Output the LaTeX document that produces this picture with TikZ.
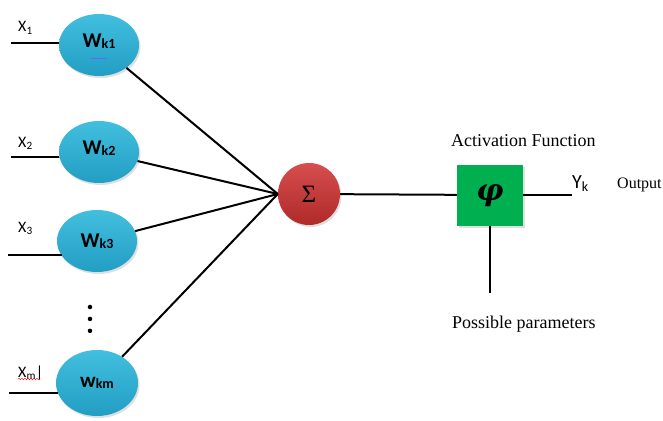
\documentclass[tikz,border=0pt]{standalone}
\usepackage{amsmath}
\usepackage{fontspec}
\setmainfont{Liberation Serif}
\newfontfamily\calibri{Carlito}
\newfontfamily\greekserif{DejaVu Serif}
\usetikzlibrary{positioning,shapes.geometric,shadows,decorations.pathmorphing}

\definecolor{wtop}{RGB}{66,190,222}
\definecolor{wbot}{RGB}{34,158,196}
\definecolor{sumtop}{RGB}{214,78,78}
\definecolor{sumbot}{RGB}{176,42,42}
\definecolor{actgreen}{RGB}{0,176,80}

% subscript inside the weight ellipses
\newcommand\wsub[1]{\raisebox{-1.5pt}{\fontsize{14}{16}\selectfont#1}}

\begin{document}
\begin{tikzpicture}[
    x=1pt, y=-1pt,
    wire/.style={line width=2pt},
    weight/.style={ellipse, minimum width=80pt, minimum height=62pt,
        top color=wtop, bottom color=wbot,
        drop shadow={shadow xshift=1.5pt, shadow yshift=-2pt, opacity=.25},
        font=\calibri\bfseries\fontsize{21}{23}\selectfont},
    lifted/.style={text depth=9pt},
    dot/.style={circle, fill=black, inner sep=1.6pt},
    input/.style={anchor=base west, inner sep=0pt,
        font=\calibri\fontsize{16}{18}\selectfont},
    caption/.style={anchor=base west, inner sep=0pt,
        font=\fontsize{18}{20}\selectfont}
]
\useasboundingbox (0,0) rectangle (663,420);

% weights
\node[weight, lifted] (wk1) at (99,45) {W\wsub{k1}};
\node[weight, lifted] (wk2) at (99,152) {W\wsub{k2}};
\node[weight] (wk3) at (97,241) {W\wsub{k3}};
\node[weight, minimum width=82pt, minimum height=66pt] (wkm) at (97,383) {w\wsub{km}};
\node[dot] (d1) at (90,307) {};
\node[dot, below=7pt of d1] (d2) {};
\node[dot, below=7pt of d2] (d3) {};

% summation and activation
\node[circle, minimum size=62pt, inner sep=0pt, top color=sumtop, bottom color=sumbot,
    drop shadow={shadow xshift=1.5pt, shadow yshift=-2pt, opacity=.25},
    font=\fontsize{25}{27}\selectfont] (sum) at (309,194) {Σ};
\node[rectangle, minimum width=66pt, minimum height=61pt, fill=actgreen,
    drop shadow={shadow xshift=1.5pt, shadow yshift=-2pt, opacity=.25},
    font=\greekserif\bfseries\itshape\fontsize{30}{32}\selectfont] (act) at (490,195) {φ};

% inputs
\coordinate (in1) at (11,43);
\coordinate (in2) at (11,157);
\coordinate (in3) at (8,255);
\coordinate (inm) at (9,393);
\node[input] (x1) at (18,32) {X\textsubscript{1}};
\node[input] (x2) at (18,147) {X\textsubscript{2}};
\node[input] (x3) at (18,232) {X\textsubscript{3}};
\node[input] (xm) at (18,377) {X\textsubscript{m}|};
\draw[red, decorate, decoration={snake, amplitude=.8pt, segment length=3pt}]
    ([yshift=-2pt]xm.base west) -- ([xshift=-3pt,yshift=-2pt]xm.base east);
\draw[blue!60, line width=.8pt] ([xshift=-8pt,yshift=-13pt]wk1.center) -- ([xshift=8pt,yshift=-13pt]wk1.center);

\draw[wire] (in1) -- (in1 -| wk1.183);
\draw[wire] (in2) -- (in2 -| wk2.188);
\draw[wire] (in3) -- (in3 -| wk3.204);
\draw[wire] (inm) -- (inm -| wkm.194);

\draw[wire] (wk1) -- (sum.west);
\draw[wire] (wk2) -- (sum.west);
\draw[wire] (wk3) -- (sum.west);
\draw[wire] (wkm) -- (sum.west);
\draw[wire] (sum) -- (act);

% output and parameters
\coordinate (out) at (572,195);
\coordinate (par) at (490,293);
\draw[wire] (act) -- (out);
\draw[wire] (act) -- (par);
\node[input, font=\calibri\fontsize{20}{22}\selectfont] (yk) at (572,188) {Y\textsubscript{k}};
\node[caption, font=\fontsize{16}{18}\selectfont] (outlbl) at (617,188) {Output};
\node[caption] (actlbl) at (451,146) {Activation Function};
\node[caption] (parlbl) at (452,328) {Possible parameters};

\end{tikzpicture}
\end{document}
